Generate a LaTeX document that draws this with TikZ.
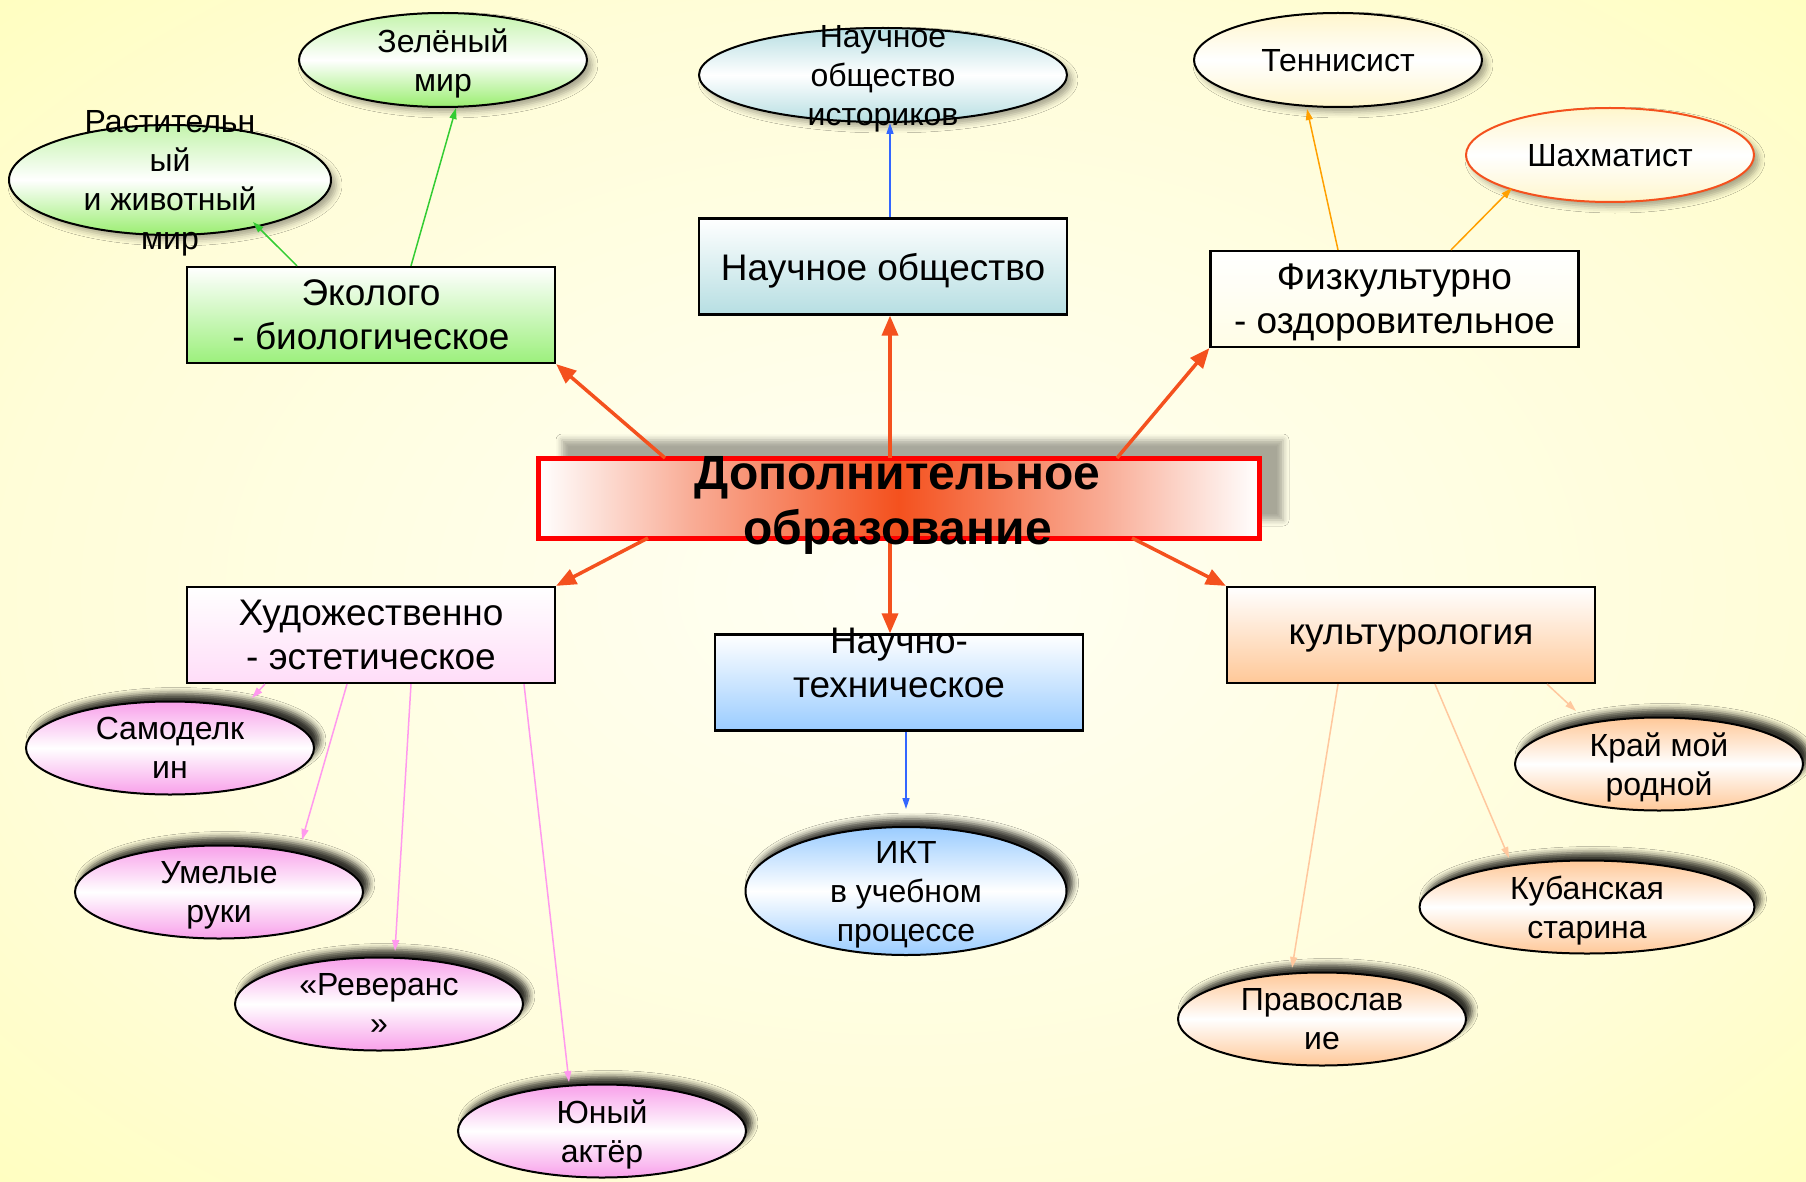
\documentclass[tikz,border=0pt]{standalone}
\usepackage{fontspec}
\setmainfont{Liberation Sans}
\usetikzlibrary{arrows.meta,shapes.geometric,shadows.blur}
\definecolor{bgin}{HTML}{FFFFF4}
\definecolor{bgmid}{HTML}{FFFDD8}
\definecolor{bgout}{HTML}{FFFFA0}
\definecolor{cOr}{HTML}{F4511E}
\definecolor{cSal}{HTML}{F9AE98}
\definecolor{cRed}{HTML}{FF0000}
\definecolor{cArrow}{HTML}{F4511E}
\definecolor{lGreen}{HTML}{33CC33}
\definecolor{lBlue}{HTML}{3366FF}
\definecolor{lOrange}{HTML}{FFA000}
\definecolor{lPink}{HTML}{FF99EE}
\definecolor{lPeach}{HTML}{FFC89E}
\definecolor{fEcoBox}{HTML}{9CF07C}
\definecolor{fGreenTop}{HTML}{C4F4AC}
\definecolor{fGreen}{HTML}{9AEE70}
\definecolor{fTeal}{HTML}{B6DEE2}
\definecolor{fCream}{HTML}{FFF6CC}
\definecolor{fFiz}{HTML}{FFFDE6}
\definecolor{fPinkBox}{HTML}{FFDDF8}
\definecolor{fPink}{HTML}{F8A0EA}
\definecolor{fBlue}{HTML}{9ACCFF}
\definecolor{fPeach}{HTML}{FFC898}
\pgfdeclareradialshading{bgshade}{\pgfpoint{0bp}{0bp}}{color(0bp)=(bgin); color(25bp)=(bgmid); color(50bp)=(bgout); color(75bp)=(bgout)}
\begin{document}
\begin{tikzpicture}[x=1pt,y=-1pt,
  box/.style={rectangle, draw=black, line width=2.2pt, minimum width=368pt, minimum height=96pt, inner sep=0pt},
  ell/.style={ellipse, draw=black, line width=2pt, inner sep=0pt},
  hishadow/.style={blur shadow={shadow xshift=5pt, shadow yshift=-5pt, shadow opacity=35, shadow blur radius=6pt}},
  loshadow/.style={blur shadow={shadow xshift=6pt, shadow yshift=8pt, shadow opacity=80, shadow blur radius=6pt}},
  mainarrow/.style={draw=cArrow, line width=3.5pt, -{Triangle[length=20pt,width=16pt]}},
  subarrow/.style={line width=1.5pt, -{Triangle[length=11pt,width=7pt]}},
  boxtext/.style={font=\fontsize{37}{44}\selectfont, align=center, inner sep=0pt, text depth=0pt},
  elltext/.style={font=\fontsize{32}{39}\selectfont, align=center, inner sep=0pt, text depth=0pt},
  ]
\useasboundingbox (0,0) rectangle (1806,1182);
\shade[shading=bgshade] (0,0) rectangle (1806,1182);

% central node
\node[rectangle, outer sep=0pt, minimum width=721pt, minimum height=80pt, inner sep=0pt, fill=white,
  blur shadow={shadow xshift=24pt, shadow yshift=18pt, shadow opacity=34, shadow blur radius=6pt}] (main) at (898.5,498) {};
\shade[left color=white, right color=cSal] (main.south west) rectangle ([xshift=-210pt]main.north);
\shade[left color=cSal, right color=cOr] ([xshift=-210.5pt]main.south) rectangle (main.north);
\shade[left color=cOr, right color=cSal] ([xshift=-0.5pt]main.south) rectangle ([xshift=210pt]main.north);
\shade[left color=cSal, right color=white] ([xshift=209.5pt]main.south) rectangle (main.north east);
\draw[cRed, line width=5pt] (main.south west) rectangle (main.north east);

% boxes
\node[box, top color=white, bottom color=fEcoBox] (eco) at (371,315) {};
\node[box, top color=white, bottom color=fTeal] (nauch) at (883,266.5) {};
\node[box, top color=white, bottom color=fFiz] (fiz) at (1394.5,299) {};
\node[box, top color=white, bottom color=fPinkBox] (hud) at (371,635) {};
\node[box, top color=white, bottom color=fBlue] (nt) at (899,682.5) {};
\node[box, top color=white, bottom color=fPeach] (kul) at (1411,635) {};

% ellipses
\node[ell, hishadow, minimum width=288pt, minimum height=94pt, top color=fGreenTop, bottom color=fGreen, middle color=white] (zel) at (443,60) {};
\node[ell, hishadow, minimum width=322pt, minimum height=110pt, top color=fGreenTop, bottom color=fGreen, middle color=white] (ras) at (170,180) {};
\node[ell, hishadow, minimum width=368pt, minimum height=94pt, top color=fTeal, bottom color=fTeal, middle color=white] (hist) at (883,75) {};
\node[ell, hishadow, minimum width=288pt, minimum height=94pt, top color=fCream, bottom color=fCream, middle color=white] (ten) at (1338,60) {};
\node[ell, hishadow, draw=cArrow, minimum width=288pt, minimum height=94pt, top color=fCream, bottom color=fCream, middle color=white] (shah) at (1610,155) {};
\node[ell, loshadow, minimum width=288pt, minimum height=93pt, top color=fPink, bottom color=fPink, middle color=white] (sam) at (170,748) {};
\node[ell, loshadow, minimum width=288pt, minimum height=93pt, top color=fPink, bottom color=fPink, middle color=white] (umel) at (219,892) {};
\node[ell, loshadow, minimum width=288pt, minimum height=93pt, top color=fPink, bottom color=fPink, middle color=white] (rev) at (379,1004) {};
\node[ell, loshadow, minimum width=288pt, minimum height=93pt, top color=fPink, bottom color=fPink, middle color=white] (yun) at (602,1131) {};
\node[ell, loshadow, minimum width=321pt, minimum height=128pt, top color=fBlue, bottom color=fBlue, middle color=white] (ikt) at (906,891) {};
\node[ell, loshadow, minimum width=288pt, minimum height=93pt, top color=fPeach, bottom color=fPeach, middle color=white] (kray) at (1659,764) {};
\node[ell, loshadow, minimum width=335pt, minimum height=93pt, top color=fPeach, bottom color=fPeach, middle color=white] (kub) at (1587,907) {};
\node[ell, loshadow, minimum width=288pt, minimum height=93pt, top color=fPeach, bottom color=fPeach, middle color=white] (prav) at (1322,1019) {};

% main arrows
\draw[mainarrow] ([xshift=-233.5pt]main.north) -- (eco.south east);
\draw[mainarrow] ([xshift=-8.5pt]main.north) -- ([xshift=7pt]nauch.south);
\draw[mainarrow] ([xshift=218.5pt]main.north) -- (fiz.south west);
\draw[mainarrow] ([xshift=-250.5pt]main.south) -- (hud.north east);
\draw[mainarrow] ([xshift=-8.5pt]main.south) -- ([xshift=-9pt]nt.north);
\draw[mainarrow] ([xshift=233.5pt]main.south) -- (kul.north west);

% sub arrows
\draw[subarrow, lGreen] ([xshift=-74pt]eco.north) -- ([xshift=83pt,yshift=-42pt]ras.center);
\draw[subarrow, lGreen] ([xshift=40pt]eco.north) -- ([xshift=13pt,yshift=-48pt]zel.center);
\draw[subarrow, lBlue] ([xshift=7pt]nauch.north) -- ([xshift=7pt,yshift=-48pt]hist.center);
\draw[subarrow, lOrange] ([xshift=-56.5pt]fiz.north) -- ([xshift=-31pt,yshift=-49pt]ten.center);
\draw[subarrow, lOrange] ([xshift=56.5pt]fiz.north) -- ([xshift=-98pt,yshift=-33pt]shah.center);
\draw[subarrow, lPink] ([xshift=-106pt]hud.south) -- ([xshift=82pt,yshift=50pt]sam.center);
\draw[subarrow, lPink] ([xshift=-24pt]hud.south) -- ([xshift=83pt,yshift=52pt]umel.center);
\draw[subarrow, lPink] ([xshift=40pt]hud.south) -- ([xshift=16pt,yshift=53pt]rev.center);
\draw[subarrow, lPink] ([xshift=153pt]hud.south) -- ([xshift=-33pt,yshift=49pt]yun.center);
\draw[subarrow, lBlue] ([xshift=7pt]nt.south) -- ([yshift=82pt]ikt.center);
\draw[subarrow, lPeach] ([xshift=-73pt]kul.south) -- ([xshift=-30pt,yshift=51pt]prav.center);
\draw[subarrow, lPeach] ([xshift=24pt]kul.south) -- ([xshift=-78pt,yshift=49pt]kub.center);
\draw[subarrow, lPeach] ([xshift=136pt]kul.south) -- ([xshift=-83pt,yshift=53pt]kray.center);

% texts
\node[font=\fontsize{48}{55}\selectfont\bfseries, align=center, inner sep=0pt] (maintext) at (897.5,505) {Дополнительное\\образование};
\node[boxtext] (ecotext) at (eco) {Эколого\\- биологическое};
\node[boxtext] (nauchtext) at (nauch) {Научное общество};
\node[boxtext] (fiztext) at (fiz) {Физкультурно\\- оздоровительное};
\node[boxtext] (hudtext) at (hud) {Художественно\\- эстетическое};
\node[boxtext] (nttext) at ([yshift=19.5pt]nt.center) {Научно-\\техническое};
\node[boxtext] (kultext) at (kul) {культурология};

\node[elltext] (zeltext) at (zel) {Зелёный\\мир};
\node[elltext] (rastext) at (ras) {Растительн\\ый\\и животный\\мир};
\node[elltext] (histtext) at (hist) {Научное\\общество\\историков};
\node[elltext] (tentext) at (ten) {Теннисист};
\node[elltext] (shahtext) at (shah) {Шахматист};
\node[elltext] (samtext) at (sam) {Самоделк\\ин};
\node[elltext] (umeltext) at (umel) {Умелые\\руки};
\node[elltext] (revtext) at (rev) {«Реверанс\\»};
\node[elltext] (yuntext) at (yun) {Юный\\актёр};
\node[elltext] (ikttext) at (ikt) {ИКТ\\в учебном\\процессе};
\node[elltext] (kraytext) at (kray) {Край мой\\родной};
\node[elltext] (kubtext) at (kub) {Кубанская\\старина};
\node[elltext] (pravtext) at (prav) {Православ\\ие};
\end{tikzpicture}
\end{document}
